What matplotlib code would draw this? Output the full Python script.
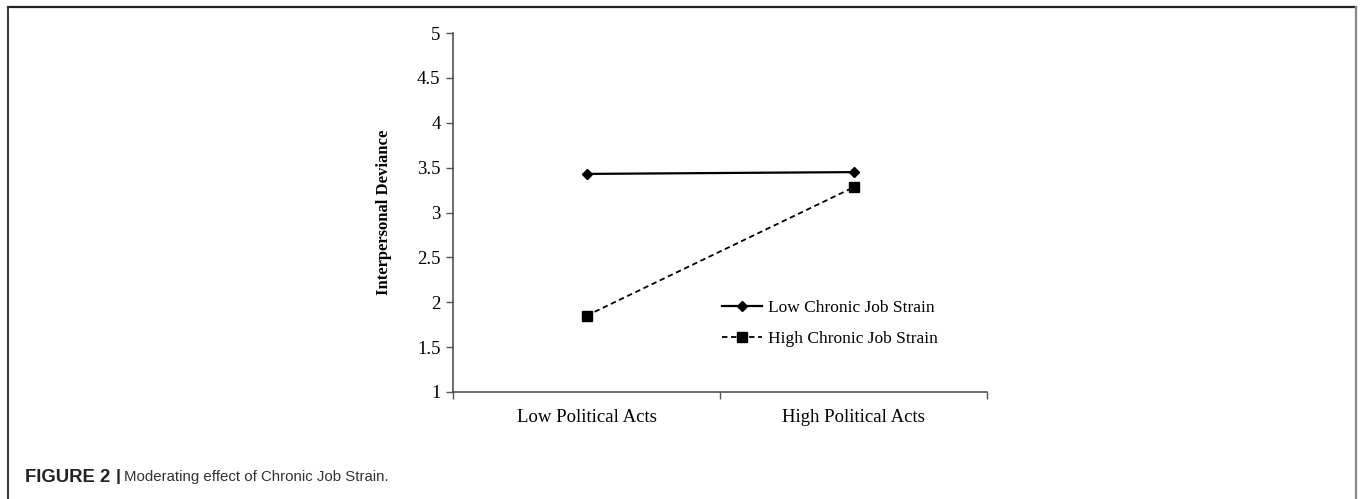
import matplotlib.pyplot as plt
from matplotlib.lines import Line2D

categories = ["Low Political Acts", "High Political Acts"]
low_strain = [3.43, 3.45]
high_strain = [1.85, 3.28]
series_names = ["Low Chronic Job Strain", "High Chronic Job Strain"]
y_ticks = [1, 1.5, 2, 2.5, 3, 3.5, 4, 4.5, 5]
y_labels = ["1", "1.5", "2", "2.5", "3", "3.5", "4", "4.5", "5"]

W, H = 1360, 499
fig = plt.figure(figsize=(W / 100, H / 100), dpi=100)
serif = ["Liberation Serif", "DejaVu Serif"]

# page frame (top, left, right)
def px_line(x0, y0, x1, y1, color, lw):
    fig.add_artist(Line2D([x0 / W, x1 / W], [1 - y0 / H, 1 - y1 / H],
                          transform=fig.transFigure, color=color, lw=lw))

px_line(8, 6.5, 1355.5, 6.5, "#222222", 1.6)
px_line(8, 6.5, 8, 499, "#333333", 1.4)
px_line(1355.5, 6.5, 1355.5, 499, "#888888", 1.6)

ax = fig.add_axes([453 / W, 1 - 392 / H, (987 - 453) / W, (392 - 33) / H])
x = [0.5, 1.5]
ax.plot(x, low_strain, color="black", lw=1.6, marker="D", markersize=5.5,
        label=series_names[0])
ax.plot(x, high_strain, color="black", lw=1.3, ls=(0, (3, 2)), marker="s",
        markersize=6.5, label=series_names[1])

ax.set_xlim(0, 2)
ax.set_ylim(1, 5)
ax.set_yticks(y_ticks)
ax.set_yticklabels(y_labels, fontfamily=serif, fontsize=13.5)
ax.set_xticks([0, 1, 2])
ax.set_xticklabels([])
ax.set_xticks(x, minor=True)
ax.set_xticklabels(categories, minor=True, fontfamily=serif, fontsize=13.5)
ax.tick_params(axis="x", which="minor", length=0, pad=12)
ax.tick_params(axis="x", which="major", length=5, width=1, color="#555555")
ax.tick_params(axis="y", length=5, width=1, pad=4, color="#555555")
for s in ["top", "right"]:
    ax.spines[s].set_visible(False)
for s in ["left", "bottom"]:
    ax.spines[s].set_color("#444444")
    ax.spines[s].set_linewidth(1.1)

ax.set_ylabel("Interpersonal Deviance", fontfamily=serif, fontweight="bold",
              fontsize=12, labelpad=18)

ax.legend(loc="upper left", bbox_to_anchor=(0.49, 0.275), frameon=False,
          prop={"family": serif, "size": 12.5}, handlelength=2.3,
          handletextpad=0.35, labelspacing=0.85, borderaxespad=0)

fig.text(25 / W, 1 - 477 / H, "FIGURE 2", fontfamily="Liberation Sans",
         fontweight="bold", fontsize=13.3, color="#222222", va="center")
fig.text(116 / W, 1 - 477 / H, "|", fontfamily="Liberation Sans",
         fontweight="bold", fontsize=12.5, color="#222222", va="center")
fig.text(124 / W, 1 - 477 / H, "Moderating effect of Chronic Job Strain.",
         fontfamily="Liberation Sans", fontsize=10.8, color="#333333", va="center")

fig.savefig("out.png", dpi=100)
